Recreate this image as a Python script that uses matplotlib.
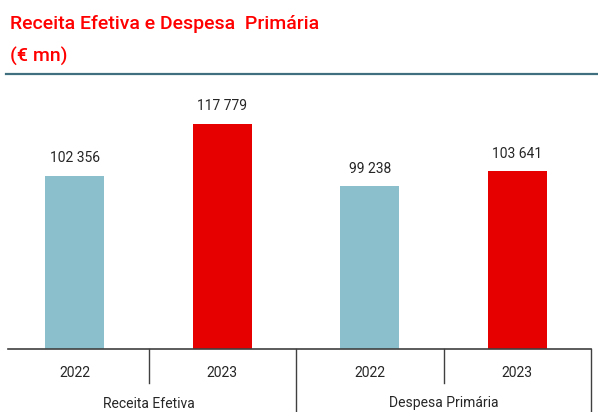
import matplotlib
matplotlib.use("Agg")
import matplotlib.pyplot as plt
from matplotlib.transforms import blended_transform_factory

plt.rcParams['font.family'] = ['Roboto', 'DejaVu Sans']

# data
groups = ['Receita Efetiva', 'Despesa Primária']
years = ['2022', '2023', '2022', '2023']
values = [102356, 117779, 99238, 103641]
colors = ['#8BBFCC', '#E60000', '#8BBFCC', '#E60000']

W, H = 598, 412
fig = plt.figure(figsize=(W / 100, H / 100), dpi=100)

def fx(px):
    return px / W

def fy(py):
    return 1 - py / H

# axes: left 1px, right 591px, bottom 349px, top 90px
ax = fig.add_axes([fx(1), fy(349), fx(590), fy(90) - fy(349)])
x = list(range(len(values)))
ax.bar(x, values, width=0.4, color=colors)
ax.set_xlim(-0.5, 3.5)
ax.set_ylim(51000, 127800)

for xi, v in zip(x, values):
    ax.annotate('{:,}'.format(v).replace(',', ' '), (xi, v),
                xytext=(0, 12.5), textcoords='offset points',
                ha='center', va='center', fontsize=10, color='#262626')

for s in ax.spines.values():
    s.set_visible(False)
ax.set_xticks([])
ax.set_yticks([])

# category axis drawn by hand (multi-level labels)
tr = blended_transform_factory(ax.transData, fig.transFigure)
ax.plot([-0.455, 3.5], [51000, 51000], color='#404040', lw=1.2, clip_on=False)
for xd, short in [(0.5, True), (1.5, False), (2.5, True), (3.5, False)]:
    y0 = fy(383) if short else 0
    ax.plot([xd, xd], [fy(349), y0], color='#404040', lw=1.0,
            transform=tr, clip_on=False)
for xi, yr in zip(x, years):
    fig.text(xi, fy(373), yr, transform=tr, ha='center', va='center',
             fontsize=10, color='#262626')
for gi, g in enumerate(groups):
    fig.text(0.5 + 2 * gi, fy(410.5), g, transform=tr, ha='center', va='bottom',
             fontsize=10, color='#262626')

# title block
fig.text(fx(10), fy(29), 'Receita Efetiva e Despesa  Primária', color='#FF0000',
         fontsize=14, fontweight='medium', va='baseline', ha='left')
fig.text(fx(10), fy(62), '(€ mn)', color='#FF0000',
         fontsize=14, fontweight='medium', va='baseline', ha='left')
fig.add_artist(plt.Line2D([fx(6), 1], [fy(74), fy(74)], color='#40707F',
                          lw=1.6, transform=fig.transFigure))

fig.savefig('out.png', dpi=100)
